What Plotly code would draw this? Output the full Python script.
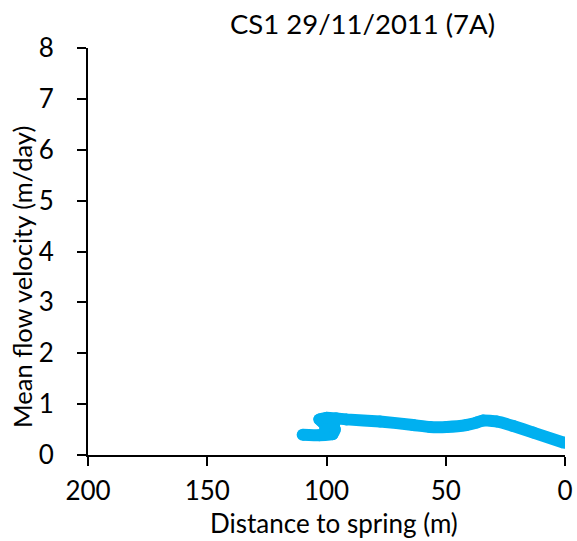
import plotly.graph_objects as go

# Data
distance_m = [110, 103, 97.5, 96.5, 100.5, 96.8, 101.5, 103, 100, 96, 91.6, 77.6, 63.7, 56.7, 49.6, 41.3, 37, 34.3, 28.7, 21.7, 13.3, 0.4]
velocity_m_day = [0.40, 0.39, 0.41, 0.50, 0.53, 0.60, 0.64, 0.70, 0.73, 0.72, 0.70, 0.66, 0.59, 0.55, 0.55, 0.59, 0.64, 0.68, 0.66, 0.57, 0.44, 0.24]

x_ticks = [200, 150, 100, 50, 0]
y_ticks = [0, 1, 2, 3, 4, 5, 6, 7, 8]

title_text = "CS1 29/11/2011 (7A)"
x_title = "Distance to spring (m)"
y_title = "Mean flow velocity (m/day)"

FONT = "Lato, 'Open Sans', sans-serif"
BLUE = "#00B0F0"

fig = go.Figure()
fig.add_trace(go.Scatter(
    x=distance_m, y=velocity_m_day,
    mode="lines+markers",
    line=dict(color=BLUE, width=12, shape="spline", smoothing=0.3),
    marker=dict(color=BLUE, size=12, line=dict(width=0)),
    showlegend=False, hoverinfo="skip",
))

axis_common = dict(
    showgrid=False, zeroline=False, showline=True, linecolor="black", linewidth=2,
    ticks="outside", ticklen=9, tickwidth=2, tickcolor="black", automargin=False,
    tickfont=dict(family=FONT, size=26, color="black"),
)

fig.update_layout(
    width=577, height=541,
    margin=dict(l=88, r=12, t=48, b=86),
    paper_bgcolor="white", plot_bgcolor="white",
    xaxis=dict(range=[200, 0], tickvals=x_ticks, ticktext=[str(v) for v in x_ticks],
               ticklabelstandoff=3, **axis_common),
    yaxis=dict(range=[0, 8], tickvals=y_ticks, ticktext=[str(v) for v in y_ticks],
               ticklabelstandoff=18, **axis_common),
    annotations=[
        dict(text=title_text, xref="paper", yref="paper", x=0.5765, y=1.0597,
             xanchor="center", yanchor="middle", showarrow=False,
             font=dict(family=FONT, size=27.5, color="black")),
        dict(text=x_title, xref="paper", yref="paper", x=0.5157, y=-0.167,
             xanchor="center", yanchor="middle", showarrow=False,
             font=dict(family=FONT, size=26, color="black")),
        dict(text=y_title, xref="paper", yref="paper", x=-0.138, y=0.438,
             xanchor="center", yanchor="middle", showarrow=False, textangle=-90,
             font=dict(family=FONT, size=25.5, color="black")),
    ],
)

fig.write_html("out.html")
